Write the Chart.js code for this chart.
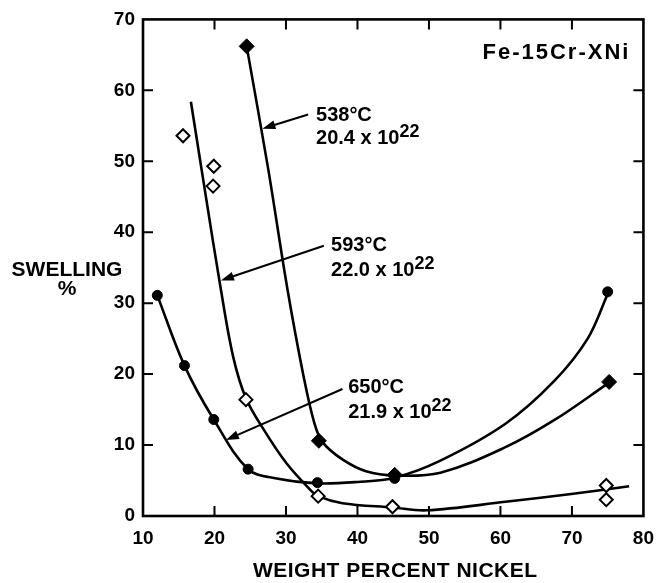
<!DOCTYPE html>
<html>
<head>
<meta charset="utf-8">
<script src="https://cdn.jsdelivr.net/npm/chart.js@4.4.0/dist/chart.umd.min.js"></script>
<style>
  html, body { margin: 0; padding: 0; background: #fff; }
  #wrap { width: 665px; height: 583px; }
</style>
</head>
<body>
<div id="wrap"><canvas id="swellChart"></canvas></div>
<script>
const xTicks = [10, 20, 30, 40, 50, 60, 70, 80];
const yTicks = [0, 10, 20, 30, 40, 50, 60, 70];

// measured points, weight percent nickel vs swelling %
const nickel538 = [24.5, 34.6, 45.2, 75.2];
const swell538 = [66.2, 10.6, 5.8, 18.9];
const nickel593 = [15.6, 19.9, 19.8, 24.4, 34.5, 44.9, 74.8, 74.8];
const swell593 = [53.6, 49.3, 46.5, 16.4, 2.8, 1.3, 4.3, 2.3];
const nickel650 = [12.0, 15.8, 19.9, 24.7, 34.4, 45.2, 75.0];
const swell650 = [31.1, 21.2, 13.6, 6.6, 4.7, 5.3, 31.6];

// hand-faired curves
const fit538X = [24.5, 27.5, 30.2, 32.5, 34.0, 35.2, 38.0, 41.2, 45.2, 51.6, 60.7, 67.5, 75.2];
const fit538Y = [66.2, 49.0, 32.0, 19.5, 13.0, 10.3, 7.9, 6.3, 5.7, 6.1, 9.7, 13.5, 18.8];
const fit593X = [16.7, 18.8, 20.8, 22.6, 24.4, 27.0, 30.1, 33.3, 34.5, 37.9, 44.9, 49.7, 60.7, 69.9, 78.0];
const fit593Y = [58.4, 45.0, 32.5, 22.5, 16.6, 12.0, 7.4, 3.8, 2.8, 1.8, 1.2, 0.8, 2.0, 3.1, 4.2];
const fit650X = [12.0, 15.8, 19.9, 24.7, 28.7, 34.4, 40.0, 45.2, 51.6, 60.7, 67.5, 72.2, 75.0];
const fit650Y = [31.1, 21.2, 13.6, 6.6, 5.3, 4.6, 4.8, 5.4, 7.8, 13.0, 19.0, 25.0, 31.3];

const labels = [
  { temp: '538°C', dose: '20.4 x 10', exp: '22' },
  { temp: '593°C', dose: '22.0 x 10', exp: '22' },
  { temp: '650°C', dose: '21.9 x 10', exp: '22' }
];

function pairs(xs, ys) {
  return xs.map((x, i) => ({ x: x, y: ys[i] }));
}

// where the labels and arrows sit, in data units
const notePlace = [
  { tx: 34.2, ty1: 55.7, ty2: 52.5, from: [33.1, 56.6], to: [26.7, 54.6] },
  { tx: 36.3, ty1: 37.4, ty2: 33.9, from: [35.3, 38.1], to: [20.9, 33.2] },
  { tx: 38.7, ty1: 17.3, ty2: 13.8, from: [37.9, 17.9], to: [21.6, 10.7] }
];

function drawArrow(ctx, x1, y1, x2, y2) {
  const a = Math.atan2(y2 - y1, x2 - x1);
  const len = 13, half = 4.5;
  const c = Math.cos(a), s = Math.sin(a);
  ctx.beginPath();
  ctx.moveTo(x1, y1);
  ctx.lineTo(x2 - c * len * 0.7, y2 - s * len * 0.7);
  ctx.stroke();
  ctx.beginPath();
  ctx.moveTo(x2, y2);
  ctx.lineTo(x2 - c * len + s * half, y2 - s * len - c * half);
  ctx.lineTo(x2 - c * len - s * half, y2 - s * len + c * half);
  ctx.closePath();
  ctx.fill();
}

const framePlugin = {
  id: 'frame',
  afterDraw(chart) {
    const ctx = chart.ctx;
    const area = chart.chartArea;
    const xs = chart.scales.x, ys = chart.scales.y;
    ctx.save();
    ctx.strokeStyle = '#000';
    ctx.fillStyle = '#000';

    // box
    ctx.lineWidth = 2.6;
    ctx.strokeRect(area.left, area.top, area.right - area.left, area.bottom - area.top);

    // inward ticks
    ctx.lineWidth = 2;
    const tl = 10;
    ctx.beginPath();
    xTicks.slice(1, -1).forEach(v => {
      const px = xs.getPixelForValue(v);
      ctx.moveTo(px, area.bottom); ctx.lineTo(px, area.bottom - tl);
      ctx.moveTo(px, area.top); ctx.lineTo(px, area.top + tl);
    });
    yTicks.slice(1, -1).forEach(v => {
      const py = ys.getPixelForValue(v);
      ctx.moveTo(area.left, py); ctx.lineTo(area.left + tl, py);
      ctx.moveTo(area.right, py); ctx.lineTo(area.right - tl, py);
    });
    ctx.stroke();

    // curve labels with arrows
    ctx.lineWidth = 2;
    ctx.textBaseline = 'alphabetic';
    ctx.textAlign = 'left';
    labels.forEach((lab, i) => {
      const p = notePlace[i];
      const tx = xs.getPixelForValue(p.tx);
      ctx.font = 'bold 20px "Liberation Sans", Arial, sans-serif';
      ctx.fillText(lab.temp, tx, ys.getPixelForValue(p.ty1));
      const y2 = ys.getPixelForValue(p.ty2);
      ctx.fillText(lab.dose, tx, y2);
      const w = ctx.measureText(lab.dose).width;
      ctx.font = 'bold 18px "Liberation Sans", Arial, sans-serif';
      ctx.fillText(lab.exp, tx + w, y2 - 7);
      drawArrow(ctx,
        xs.getPixelForValue(p.from[0]), ys.getPixelForValue(p.from[1]),
        xs.getPixelForValue(p.to[0]), ys.getPixelForValue(p.to[1]));
    });

    // alloy name
    ctx.font = 'bold 22px "Liberation Sans", Arial, sans-serif';
    ctx.letterSpacing = '2px';
    ctx.textAlign = 'right';
    ctx.fillText('Fe-15Cr-XNi', area.right - 13, ys.getPixelForValue(64.4));

    // axis titles
    ctx.font = 'bold 21px "Liberation Sans", Arial, sans-serif';
    ctx.letterSpacing = '0.5px';
    ctx.textAlign = 'center';
    ctx.fillText('WEIGHT PERCENT NICKEL', (area.left + area.right) / 2 + 2, area.bottom + 61);
    ctx.letterSpacing = '0px';
    ctx.fillText('SWELLING', area.left - 76, ys.getPixelForValue(33.9));
    ctx.fillText('%', area.left - 76, ys.getPixelForValue(31.2));
    ctx.restore();
  }
};

const lineStyle = {
  showLine: true,
  pointRadius: 0,
  borderColor: '#000',
  borderWidth: 2.6,
  tension: 0.35,
  fill: false
};

new Chart(document.getElementById('swellChart'), {
  type: 'scatter',
  data: {
    datasets: [
      {
        label: '538°C data',
        data: pairs(nickel538, swell538),
        pointStyle: 'rectRot',
        pointRadius: 7.5,
        backgroundColor: '#000',
        borderColor: '#000',
        borderWidth: 1
      },
      {
        label: '593°C data',
        data: pairs(nickel593, swell593),
        pointStyle: 'rectRot',
        pointRadius: 6.5,
        backgroundColor: '#fff',
        borderColor: '#000',
        borderWidth: 2
      },
      {
        label: '650°C data',
        data: pairs(nickel650, swell650),
        pointStyle: 'circle',
        pointRadius: 5,
        backgroundColor: '#000',
        borderColor: '#000',
        borderWidth: 1
      },
      Object.assign({ label: '538°C', data: pairs(fit538X, fit538Y) }, lineStyle),
      Object.assign({ label: '593°C', data: pairs(fit593X, fit593Y) }, lineStyle),
      Object.assign({ label: '650°C', data: pairs(fit650X, fit650Y) }, lineStyle)
    ]
  },
  options: {
    responsive: true,
    maintainAspectRatio: false,
    animation: false,
    events: [],
    layout: { padding: { left: 0, right: 10, top: 15, bottom: 0 } },
    plugins: {
      legend: { display: false },
      tooltip: { enabled: false }
    },
    scales: {
      x: {
        type: 'linear',
        min: 10,
        max: 80,
        afterBuildTicks: s => { s.ticks = xTicks.map(v => ({ value: v })); },
        afterFit: s => { s.height = 67; },
        grid: { display: false, drawTicks: false },
        border: { display: false },
        ticks: {
          color: '#000',
          padding: 11,
          font: { family: '"Liberation Sans", Arial, sans-serif', size: 19, weight: 'bold' }
        }
      },
      y: {
        type: 'linear',
        min: 0,
        max: 70,
        afterBuildTicks: s => { s.ticks = yTicks.map(v => ({ value: v })); },
        afterFit: s => { s.width = 143; },
        grid: { display: false, drawTicks: false },
        border: { display: false },
        ticks: {
          color: '#000',
          padding: 8,
          font: { family: '"Liberation Sans", Arial, sans-serif', size: 19, weight: 'bold' }
        }
      }
    }
  },
  plugins: [framePlugin]
});
</script>
</body>
</html>
